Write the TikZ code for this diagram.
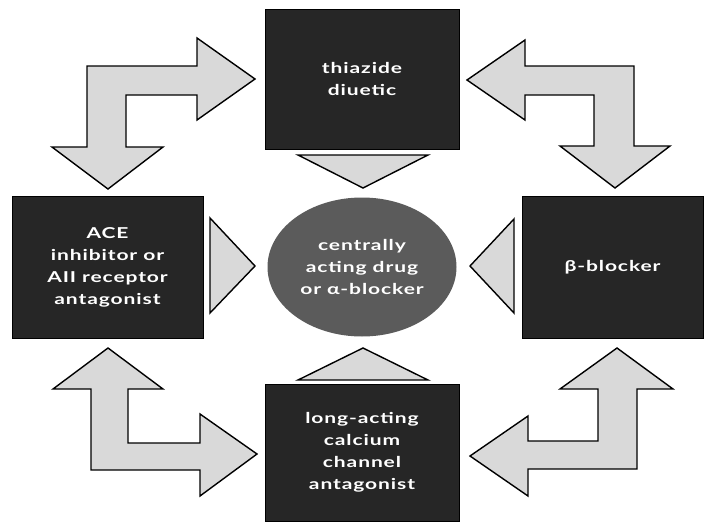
\documentclass[tikz,border=0pt]{standalone}
\usepackage{fontspec}
\setmainfont{Lato}[FakeStretch=1.4,LetterSpace=6]
\usetikzlibrary{shapes.geometric}
\definecolor{boxfill}{HTML}{262626}
\definecolor{arrowfill}{HTML}{D9D9D9}
\definecolor{hubfill}{HTML}{5B5B5B}
\tikzset{
  drugbox/.style={draw=black, fill=boxfill, text=white, align=center,
    inner sep=0pt, font=\bfseries\fontsize{15}{22}\selectfont},
  hub/.style={ellipse, draw=none, fill=hubfill, text=white, align=center,
    inner sep=0pt, font=\bfseries\fontsize{15}{22}\selectfont},
  blockarrow/.style={draw=black, line width=1.4pt, fill=arrowfill, line join=miter},
  pointer/.style={draw=black, line width=1.4pt, fill=arrowfill, line join=miter}
}
\begin{document}
\begin{tikzpicture}[x=1pt, y=-1pt]
\useasboundingbox (0,0) rectangle (704,522);

% drug class boxes
\node[drugbox, minimum width=194pt, minimum height=140pt] (thiazide) at (362,79) {thiazide\\diuetic};
\node[drugbox, minimum width=191pt, minimum height=142pt] (ace) at (107.5,267) {ACE\\inhibitor or\\AII receptor\\antagonist};
\node[drugbox, minimum width=181pt, minimum height=142pt] (beta) at (612.5,267) {β-blocker};
\node[drugbox, minimum width=194pt, minimum height=137pt] (calcium) at (362,452.5) {long-acting\\calcium\\channel\\antagonist};

% central option
\node[hub, minimum width=189pt, minimum height=139pt] (central) at (362,267) {centrally\\acting drug\\or α-blocker};

% small pointers towards the centre
\draw[pointer] (298,155) -- (428,155) -- (363,188) -- cycle;
\draw[pointer] (298,380) -- (428,380) -- (363,348) -- cycle;
\draw[pointer] (210,218) -- (210,313) -- (255,266) -- cycle;
\draw[pointer] (514,219) -- (514,313) -- (470,266) -- cycle;

% two-headed bent arrows between neighbouring boxes
\draw[blockarrow] (255,79) -- (197,120) -- (197,95) -- (126,95) -- (126,147)
  -- (163,147) -- (108,189) -- (52,147) -- (87,147) -- (87,66) -- (197,66)
  -- (197,38) -- cycle;
\draw[blockarrow] (467,80) -- (525,40) -- (525,66) -- (634,66) -- (634,146)
  -- (670,146) -- (615,188) -- (560,146) -- (594,146) -- (594,95) -- (525,95)
  -- (525,120) -- cycle;
\draw[blockarrow] (108,348) -- (163,389) -- (128,389) -- (128,443) -- (200,443)
  -- (200,414) -- (257,454) -- (200,496) -- (200,470) -- (91,470) -- (91,389)
  -- (53,389) -- cycle;
\draw[blockarrow] (617,348) -- (673,389) -- (637,389) -- (637,469) -- (528,469)
  -- (528,496) -- (470,456) -- (528,416) -- (528,441) -- (598,441) -- (598,389)
  -- (560,389) -- cycle;
\end{tikzpicture}
\end{document}
